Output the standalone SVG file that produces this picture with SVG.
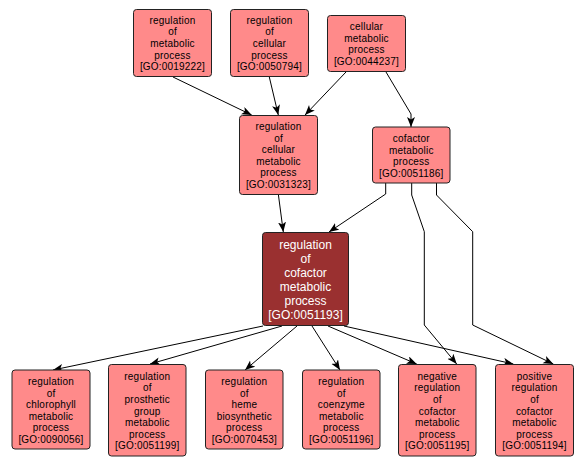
<svg xmlns="http://www.w3.org/2000/svg" width="587" height="465" viewBox="0 0 587 465">
<defs>
<style>
.n rect{fill:#FF8A8A;stroke:#222;stroke-width:1}
.d rect{fill:#9A3030;stroke:#222;stroke-width:1}
.n text{font-family:"Liberation Sans",Arial,sans-serif;font-size:10px;letter-spacing:0.2px;fill:#000;text-anchor:middle}
.d text{font-family:"Liberation Sans",Arial,sans-serif;font-size:12px;fill:#fff;text-anchor:middle}
.e path{fill:none;stroke:#000;stroke-width:1;marker-end:url(#a)}
</style>
<marker id="a" markerUnits="userSpaceOnUse" markerWidth="11" markerHeight="9" refX="10" refY="4" orient="auto" viewBox="0 0 11 9">
<path d="M0,0 L10,4 L0,8 L2.5,4 z" fill="#000"/>
</marker>
</defs>
<rect width="587" height="465" fill="#fff"/>
<g id="edges" class="e">
<path d="M173,77 L251.7,115"/>
<path d="M269.3,77 L278.3,115"/>
<path d="M346,72 L305,115"/>
<path d="M386,72 L411,114 L411,127"/>
<path d="M278.3,194 L283.3,232"/>
<path d="M385.7,183 L385.7,194 L329,232"/>
<path d="M411.7,183 L411.7,195 L424.3,231.7 L424.3,325 L456.7,364"/>
<path d="M436.5,183 L436.5,195 L472.7,231.7 L472.7,325 L553.3,364"/>
<path d="M263,326 L53,370"/>
<path d="M282,326 L150,364"/>
<path d="M297,326 L245,370"/>
<path d="M312,326 L340,370"/>
<path d="M328,326 L416.7,364"/>
<path d="M344,326 L513.3,364"/>
</g>
<g id="GO0019222" class="n"><rect x="133.5" y="9.5" width="78" height="67" rx="3"/>
<text x="172.5" y="23.8">regulation</text><text x="172.5" y="35.4">of</text><text x="172.5" y="47">metabolic</text><text x="172.5" y="58.6">process</text><text x="172.5" y="70.2">[GO:0019222]</text></g>
<g id="GO0050794" class="n"><rect x="230.5" y="9.5" width="78" height="67" rx="3"/>
<text x="269.5" y="23.8">regulation</text><text x="269.5" y="35.4">of</text><text x="269.5" y="47">cellular</text><text x="269.5" y="58.6">process</text><text x="269.5" y="70.2">[GO:0050794]</text></g>
<g id="GO0044237" class="n"><rect x="327.5" y="15.5" width="78" height="56" rx="3"/>
<text x="366.5" y="30.1">cellular</text><text x="366.5" y="41.7">metabolic</text><text x="366.5" y="53.3">process</text><text x="366.5" y="64.9">[GO:0044237]</text></g>
<g id="GO0031323" class="n"><rect x="239.5" y="115.5" width="78" height="79" rx="3"/>
<text x="278.5" y="130">regulation</text><text x="278.5" y="141.6">of</text><text x="278.5" y="153.2">cellular</text><text x="278.5" y="164.8">metabolic</text><text x="278.5" y="176.4">process</text><text x="278.5" y="188">[GO:0031323]</text></g>
<g id="GO0051186" class="n"><rect x="372.5" y="127" width="77.5" height="56" rx="3"/>
<text x="411.3" y="142.1">cofactor</text><text x="411.3" y="153.7">metabolic</text><text x="411.3" y="165.3">process</text><text x="411.3" y="176.9">[GO:0051186]</text></g>
<g id="GO0051193" class="d"><rect x="262.5" y="232.5" width="86" height="93" rx="3"/>
<text x="305.5" y="249.2">regulation</text><text x="305.5" y="263.1">of</text><text x="305.5" y="277">cofactor</text><text x="305.5" y="290.9">metabolic</text><text x="305.5" y="304.8">process</text><text x="305.5" y="318.7">[GO:0051193]</text></g>
<g id="GO0090056" class="n"><rect x="12" y="370" width="78" height="79" rx="3"/>
<text x="51" y="385">regulation</text><text x="51" y="396.6">of</text><text x="51" y="408.2">chlorophyll</text><text x="51" y="419.8">metabolic</text><text x="51" y="431.4">process</text><text x="51" y="443">[GO:0090056]</text></g>
<g id="GO0051199" class="n"><rect x="108.5" y="364.5" width="77.5" height="91.5" rx="3"/>
<text x="147.3" y="379.7">regulation</text><text x="147.3" y="391.3">of</text><text x="147.3" y="402.9">prosthetic</text><text x="147.3" y="414.5">group</text><text x="147.3" y="426.1">metabolic</text><text x="147.3" y="437.7">process</text><text x="147.3" y="449.3">[GO:0051199]</text></g>
<g id="GO0070453" class="n"><rect x="205.5" y="370" width="77.5" height="79" rx="3"/>
<text x="244.3" y="385">regulation</text><text x="244.3" y="396.6">of</text><text x="244.3" y="408.2">heme</text><text x="244.3" y="419.8">biosynthetic</text><text x="244.3" y="431.4">process</text><text x="244.3" y="443">[GO:0070453]</text></g>
<g id="GO0051196" class="n"><rect x="302.5" y="370" width="77.5" height="79" rx="3"/>
<text x="341.3" y="385">regulation</text><text x="341.3" y="396.6">of</text><text x="341.3" y="408.2">coenzyme</text><text x="341.3" y="419.8">metabolic</text><text x="341.3" y="431.4">process</text><text x="341.3" y="443">[GO:0051196]</text></g>
<g id="GO0051195" class="n"><rect x="398.5" y="364.5" width="77.5" height="91.5" rx="3"/>
<text x="437.3" y="379.7">negative</text><text x="437.3" y="391.3">regulation</text><text x="437.3" y="402.9">of</text><text x="437.3" y="414.5">cofactor</text><text x="437.3" y="426.1">metabolic</text><text x="437.3" y="437.7">process</text><text x="437.3" y="449.3">[GO:0051195]</text></g>
<g id="GO0051194" class="n"><rect x="495.5" y="364.5" width="78" height="91.5" rx="3"/>
<text x="534.5" y="379.7">positive</text><text x="534.5" y="391.3">regulation</text><text x="534.5" y="402.9">of</text><text x="534.5" y="414.5">cofactor</text><text x="534.5" y="426.1">metabolic</text><text x="534.5" y="437.7">process</text><text x="534.5" y="449.3">[GO:0051194]</text></g>
</svg>
